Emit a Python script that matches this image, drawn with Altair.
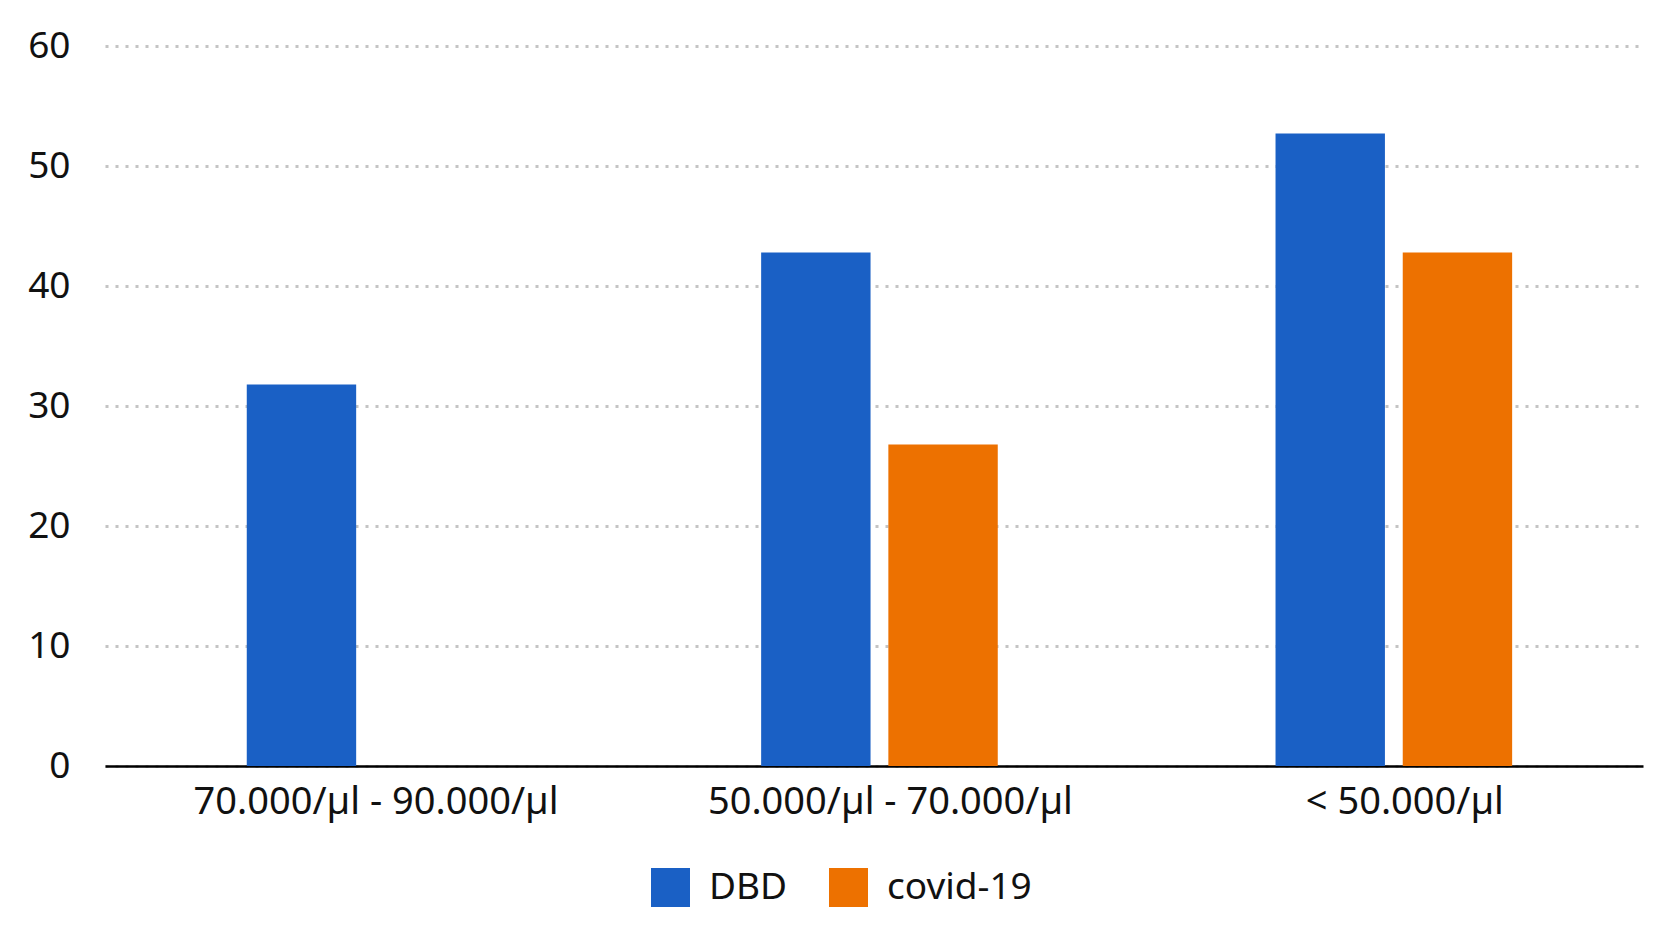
import altair as alt
import pandas as pd

categories = ["70.000/µl - 90.000/µl", "50.000/µl - 70.000/µl", "< 50.000/µl"]
series = ["DBD", "covid-19"]
dbd = [31.8, 42.8, 52.7]
covid = [None, 26.8, 42.8]
colors = ["#1a60c5", "#ed7100"]

rows = []
for c, v in zip(categories, dbd):
    rows.append({"cat": c, "series": "DBD", "value": v})
for c, v in zip(categories, covid):
    if v is not None:
        rows.append({"cat": c, "series": "covid-19", "value": v})
df = pd.DataFrame(rows)

FONT = "Noto Sans"

chart = alt.Chart(df).mark_bar().encode(
    x=alt.X("cat:N", sort=categories,
            scale=alt.Scale(paddingInner=0.54, paddingOuter=0.265, align=0.52),
            axis=alt.Axis(title=None, labelAngle=0, labelFontSize=38, labelFont=FONT,
                          labelColor="#111111", labelPadding=17, labelLimit=0,
                          labelOffset=11, ticks=False,
                          domainColor="#000000", domainWidth=2.5, grid=False)),
    xOffset=alt.XOffset("series:N", sort=series,
                        scale=alt.Scale(domain=series, paddingInner=0.14, paddingOuter=0)),
    y=alt.Y("value:Q", scale=alt.Scale(domain=[0, 60]),
            axis=alt.Axis(title=None, values=[0, 10, 20, 30, 40, 50, 60], labelFontSize=37,
                          labelFont=FONT, labelColor="#111111", labelPadding=35,
                          ticks=False, tickSize=0, domain=False, grid=True,
                          gridColor="#c4c4c4", gridDash=[3, 7], gridWidth=3)),
    color=alt.Color("series:N", sort=series,
                    scale=alt.Scale(domain=series, range=colors),
                    legend=alt.Legend(title=None, orient="none", direction="horizontal",
                                      legendX=546, legendY=822, padding=0,
                                      symbolType="square", symbolSize=1521,
                                      symbolStrokeWidth=0, labelFontSize=37,
                                      labelFont=FONT, labelColor="#111111",
                                      labelOffset=19, columnPadding=41,
                                      symbolOpacity=1)),
).properties(
    width=1538, height=720,
    background="#ffffff",
    autosize=alt.AutoSizeParams(type="none"),
    padding={"left": 97, "top": 38, "right": 21, "bottom": 150},
).configure_view(stroke=None)

chart.save("out.html", embed_options={"renderer": "svg", "actions": False})
